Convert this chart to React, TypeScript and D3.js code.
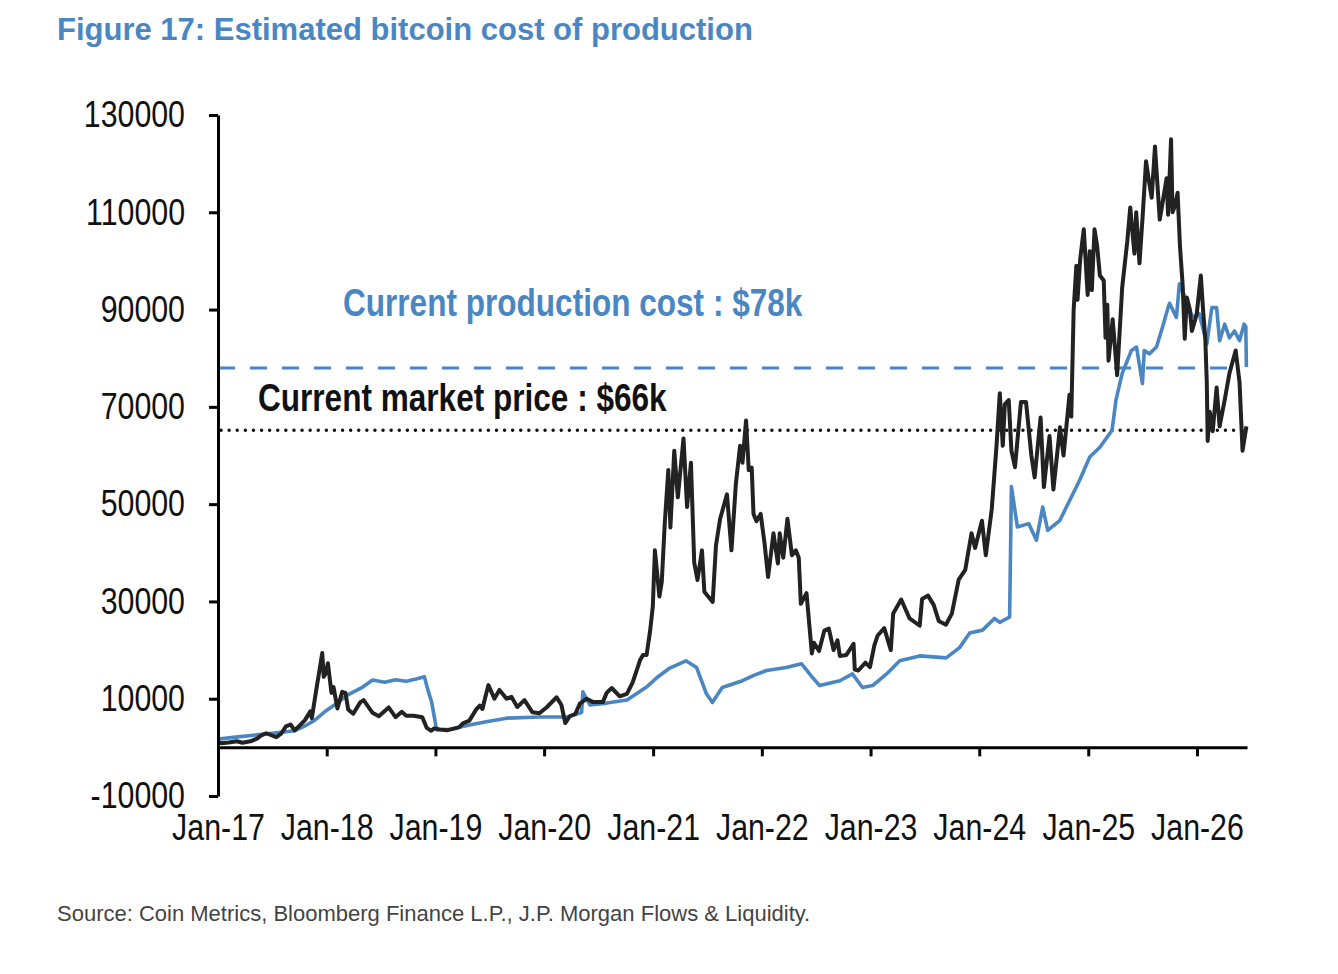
import React, { useEffect, useRef } from 'react';
import * as d3 from 'd3';

// Bitcoin market price (black) and estimated production cost (blue)
const marketPrice: [string, number][] = [
  ['2017-01-01', 1100], ['2017-01-12', 850], ['2017-02-05', 1000], ['2017-03-05', 1250],
  ['2017-03-24', 950], ['2017-04-20', 1250], ['2017-05-12', 1800], ['2017-05-25', 2400],
  ['2017-06-12', 2900], ['2017-07-16', 2100], ['2017-08-01', 2800], ['2017-08-17', 4300],
  ['2017-09-02', 4700], ['2017-09-15', 3500], ['2017-10-01', 4400], ['2017-10-20', 5600],
  ['2017-11-07', 7400], ['2017-11-12', 6000], ['2017-11-30', 13000], ['2017-12-07', 15500],
  ['2017-12-17', 19400], ['2017-12-22', 14500], ['2017-12-29', 15300], ['2018-01-05', 17300],
  ['2018-01-17', 11200], ['2018-01-24', 12400], ['2018-02-06', 8000], ['2018-02-22', 11400],
  ['2018-03-05', 11200], ['2018-03-14', 7800], ['2018-03-31', 6900], ['2018-04-24', 9300],
  ['2018-05-05', 9700], ['2018-06-04', 7100], ['2018-06-25', 6400], ['2018-07-28', 8200],
  ['2018-08-20', 6200], ['2018-09-10', 7300], ['2018-09-25', 6500], ['2018-10-20', 6500],
  ['2018-11-18', 6200], ['2018-12-03', 4000], ['2018-12-18', 3400], ['2018-12-28', 3900],
  ['2019-01-15', 3700], ['2019-02-08', 3500], ['2019-03-21', 4100], ['2019-04-05', 5000],
  ['2019-04-25', 5500], ['2019-05-18', 7800], ['2019-05-30', 8600], ['2019-06-08', 7900],
  ['2019-06-15', 9700], ['2019-06-28', 12800], ['2019-07-18', 10000], ['2019-08-04', 11800],
  ['2019-08-28', 10000], ['2019-09-13', 10400], ['2019-10-03', 8300], ['2019-10-27', 9700],
  ['2019-11-23', 7200], ['2019-12-16', 7000], ['2020-01-09', 8200], ['2020-02-12', 10300],
  ['2020-02-28', 8700], ['2020-03-12', 5000], ['2020-03-27', 6400], ['2020-04-15', 6900],
  ['2020-04-30', 9000], ['2020-05-23', 10000], ['2020-06-13', 9300], ['2020-07-16', 9300],
  ['2020-07-29', 11200], ['2020-08-15', 12200], ['2020-09-11', 10500], ['2020-10-05', 11000],
  ['2020-10-24', 13300], ['2020-11-18', 17900], ['2020-11-28', 19000], ['2020-12-10', 19000],
  ['2020-12-22', 24000], ['2020-12-31', 29000], ['2021-01-07', 40500], ['2021-01-22', 31000],
  ['2021-01-30', 34000], ['2021-02-09', 46000], ['2021-02-21', 57000], ['2021-02-28', 45200],
  ['2021-03-13', 61000], ['2021-03-25', 51400], ['2021-04-13', 63500], ['2021-04-25', 49400],
  ['2021-05-08', 58500], ['2021-05-19', 38000], ['2021-05-30', 34400], ['2021-06-14', 40500],
  ['2021-06-22', 32000], ['2021-07-20', 29900], ['2021-07-31', 41500], ['2021-08-14', 47000],
  ['2021-09-06', 52000], ['2021-09-21', 40500], ['2021-10-06', 54300], ['2021-10-20', 62000],
  ['2021-10-28', 58500], ['2021-11-09', 67200], ['2021-11-18', 57000], ['2021-11-28', 57500],
  ['2021-12-04', 48000], ['2021-12-14', 46500], ['2021-12-28', 48000], ['2022-01-10', 42000],
  ['2022-01-22', 35000], ['2022-02-09', 44000], ['2022-02-24', 37800], ['2022-03-02', 44000],
  ['2022-03-14', 39000], ['2022-03-28', 47000], ['2022-04-12', 39500], ['2022-04-25', 40500],
  ['2022-05-05', 39000], ['2022-05-12', 29500], ['2022-05-31', 31700], ['2022-06-18', 19300],
  ['2022-06-25', 21500], ['2022-07-12', 19800], ['2022-07-30', 24000], ['2022-08-14', 24400],
  ['2022-08-30', 20000], ['2022-09-12', 22000], ['2022-09-20', 18800], ['2022-10-12', 19000],
  ['2022-11-05', 21300], ['2022-11-09', 16000], ['2022-11-21', 15800], ['2022-12-15', 17400],
  ['2022-12-30', 16500], ['2023-01-14', 21000], ['2023-01-25', 23000], ['2023-02-16', 24500],
  ['2023-03-10', 20000], ['2023-03-18', 27500], ['2023-04-14', 30400], ['2023-05-12', 26500],
  ['2023-06-15', 25000], ['2023-06-23', 30500], ['2023-07-13', 31200], ['2023-08-01', 29300],
  ['2023-08-18', 26000], ['2023-09-11', 25200], ['2023-10-01', 27500], ['2023-10-24', 34500],
  ['2023-11-15', 36500], ['2023-12-06', 44000], ['2023-12-18', 41000], ['2024-01-10', 46600],
  ['2024-01-23', 39500], ['2024-02-12', 49000], ['2024-02-28', 62000], ['2024-03-10', 72800],
  ['2024-03-20', 62000], ['2024-03-27', 70500], ['2024-04-09', 71400], ['2024-04-18', 61000],
  ['2024-04-30', 57600], ['2024-05-20', 71000], ['2024-06-06', 71000], ['2024-06-24', 60000],
  ['2024-07-05', 55500], ['2024-07-25', 67800], ['2024-08-05', 53500], ['2024-08-24', 64000],
  ['2024-09-06', 53000], ['2024-09-28', 65800], ['2024-10-10', 60000], ['2024-10-30', 72500],
  ['2024-11-05', 68000], ['2024-11-13', 90000], ['2024-11-22', 99000], ['2024-11-26', 92000],
  ['2024-12-05', 100400], ['2024-12-17', 106500], ['2024-12-30', 93000], ['2025-01-06', 102000],
  ['2025-01-13', 94000], ['2025-01-22', 106500], ['2025-01-31', 103000], ['2025-02-09', 97000],
  ['2025-02-22', 96000], ['2025-02-28', 84200], ['2025-03-06', 91000], ['2025-03-10', 79500],
  ['2025-03-24', 88000], ['2025-04-08', 76500], ['2025-04-25', 94600], ['2025-05-12', 104000],
  ['2025-05-22', 111000], ['2025-06-05', 101500], ['2025-06-11', 110000], ['2025-06-22', 99500],
  ['2025-07-03', 109500], ['2025-07-14', 120500], ['2025-07-25', 116000], ['2025-08-02', 113000],
  ['2025-08-13', 123500], ['2025-08-29', 108500], ['2025-09-05', 111000], ['2025-09-21', 117000],
  ['2025-09-26', 109500], ['2025-10-06', 125000], ['2025-10-11', 110000], ['2025-10-20', 111500],
  ['2025-10-28', 114000], ['2025-11-05', 103000], ['2025-11-14', 95000], ['2025-11-21', 84000],
  ['2025-11-28', 92500], ['2025-12-08', 90000], ['2025-12-15', 85600], ['2025-12-31', 89000],
  ['2026-01-14', 97000], ['2026-01-22', 89500], ['2026-01-29', 84000], ['2026-02-03', 75000],
  ['2026-02-06', 63000], ['2026-02-13', 69000], ['2026-02-23', 65000], ['2026-03-08', 74000],
  ['2026-03-18', 66000], ['2026-04-04', 71400], ['2026-04-20', 76900], ['2026-05-11', 81600],
  ['2026-05-24', 75000], ['2026-06-03', 61000], ['2026-06-16', 66000],
];

const productionCost: [string, number][] = [
  ['2017-01-01', 1700], ['2017-03-01', 2100], ['2017-05-01', 2500], ['2017-07-01', 2900],
  ['2017-09-15', 3400], ['2017-10-20', 4400], ['2017-11-22', 5600], ['2017-12-25', 7300],
  ['2018-01-27', 8700], ['2018-03-13', 10800], ['2018-05-02', 12400], ['2018-06-04', 13850],
  ['2018-07-15', 13400], ['2018-08-20', 13900], ['2018-09-25', 13600], ['2018-10-25', 14000],
  ['2018-11-25', 14500], ['2018-12-04', 12400], ['2018-12-20', 9100], ['2019-01-05', 3600],
  ['2019-02-20', 3700], ['2019-04-25', 4600], ['2019-06-25', 5300], ['2019-08-28', 6000],
  ['2019-12-16', 6240], ['2020-03-20', 6240], ['2020-04-30', 7070], ['2020-05-06', 7200],
  ['2020-05-10', 11400], ['2020-06-03', 8700], ['2020-07-29', 9100], ['2020-10-05', 9740],
  ['2020-12-10', 12400], ['2021-01-13', 14300], ['2021-02-26', 16300], ['2021-04-21', 17800],
  ['2021-05-27', 16400], ['2021-06-29', 11000], ['2021-07-19', 9200], ['2021-08-21', 12300],
  ['2021-10-28', 13700], ['2021-12-05', 14800], ['2022-01-17', 15800], ['2022-03-24', 16400],
  ['2022-05-14', 17200], ['2022-06-21', 14300], ['2022-07-14', 12700], ['2022-09-20', 13700],
  ['2022-11-01', 15100], ['2022-12-05', 12300], ['2023-01-08', 12700], ['2023-02-24', 15100],
  ['2023-04-09', 17800], ['2023-06-15', 18800], ['2023-09-12', 18400], ['2023-10-27', 20500],
  ['2023-11-30', 23500], ['2024-01-12', 24100], ['2024-02-21', 26500], ['2024-03-10', 25700],
  ['2024-04-12', 26800], ['2024-04-18', 53600], ['2024-05-08', 45300], ['2024-06-15', 46000],
  ['2024-07-11', 42600], ['2024-08-01', 49400], ['2024-08-18', 44600], ['2024-09-27', 46600],
  ['2024-10-31', 50800], ['2024-12-03', 54900], ['2025-01-06', 59700], ['2025-02-09', 61700],
  ['2025-03-22', 65200], ['2025-04-04', 71400], ['2025-04-25', 76900], ['2025-05-26', 81600],
  ['2025-06-12', 82300], ['2025-07-02', 74800], ['2025-07-08', 81600], ['2025-07-25', 80900],
  ['2025-08-18', 82300], ['2025-09-08', 86500], ['2025-09-26', 90400], ['2025-10-01', 91300],
  ['2025-10-24', 88400], ['2025-11-03', 95300], ['2025-11-27', 91800], ['2025-12-17', 88500],
  ['2026-01-09', 89100], ['2026-02-03', 82900], ['2026-02-20', 90400], ['2026-03-08', 90400],
  ['2026-03-18', 83600], ['2026-04-04', 87000], ['2026-04-20', 84200], ['2026-05-07', 85600],
  ['2026-05-24', 83600], ['2026-06-08', 87000], ['2026-06-14', 86500], ['2026-06-16', 78200],
];

const yTicks = [-10000, 10000, 30000, 50000, 70000, 90000, 110000, 130000];
const xTickDates = ['2017-01-01', '2018-01-01', '2019-01-01', '2020-01-01', '2021-01-01',
  '2022-01-01', '2023-01-01', '2024-01-01', '2025-01-01', '2026-01-01'];
const xTickLabels = ['Jan-17', 'Jan-18', 'Jan-19', 'Jan-20', 'Jan-21', 'Jan-22', 'Jan-23',
  'Jan-24', 'Jan-25', 'Jan-26'];

const costLevel = 78000;
const priceLevel = 65200;

const BLUE = '#4a87c2';
const SANS = "'Liberation Sans', Arial, Helvetica, sans-serif";
// no narrow face installed, so squeeze the regular one
const NARROW_SCALE = 0.82;

const App = () => {
  const svgRef = useRef<SVGSVGElement>(null);

  useEffect(() => {
    if (!svgRef.current) return;
    const svg = d3.select(svgRef.current);
    svg.selectAll('*').remove();

    const parse = d3.timeParse('%Y-%m-%d');
    const x = d3.scaleTime()
      .domain([parse('2017-01-01') as Date, parse('2026-06-18') as Date])
      .range([218, 1247]);
    const y = d3.scaleLinear().domain([-10000, 130000]).range([796, 115]);

    // Title and source
    svg.append('text')
      .attr('x', 57).attr('y', 40)
      .attr('fill', BLUE)
      .attr('font-family', SANS)
      .attr('font-weight', 700)
      .attr('font-size', 31)
      .text('Figure 17: Estimated bitcoin cost of production');

    svg.append('text')
      .attr('x', 57).attr('y', 921)
      .attr('fill', '#444')
      .attr('font-family', SANS)
      .attr('font-size', 22)
      .text('Source: Coin Metrics, Bloomberg Finance L.P., J.P. Morgan Flows & Liquidity.');

    // Reference levels
    svg.append('line')
      .attr('x1', x.range()[0]).attr('x2', 1240)
      .attr('y1', y(costLevel)).attr('y2', y(costLevel))
      .attr('stroke', BLUE).attr('stroke-width', 3)
      .attr('stroke-dasharray', '17,15');

    svg.append('line')
      .attr('x1', x.range()[0] + 3).attr('x2', 1245)
      .attr('y1', y(priceLevel)).attr('y2', y(priceLevel))
      .attr('stroke', '#111').attr('stroke-width', 3.4)
      .attr('stroke-linecap', 'round')
      .attr('stroke-dasharray', '0.1,8');

    // Series
    const line = d3.line<[string, number]>()
      .x(d => x(parse(d[0]) as Date))
      .y(d => y(d[1]));

    svg.append('path')
      .datum(productionCost)
      .attr('d', line)
      .attr('fill', 'none')
      .attr('stroke', BLUE)
      .attr('stroke-width', 3.6)
      .attr('stroke-linejoin', 'round');

    svg.append('path')
      .datum(marketPrice)
      .attr('d', line)
      .attr('fill', 'none')
      .attr('stroke', '#222')
      .attr('stroke-width', 4)
      .attr('stroke-linejoin', 'round');

    // Annotations
    svg.append('text')
      .attr('transform', `translate(343,316) scale(${NARROW_SCALE},1)`)
      .attr('fill', BLUE)
      .attr('font-family', SANS)
      .attr('font-weight', 700)
      .attr('font-size', 38.5)
      .text('Current production cost : $78k');

    svg.append('text')
      .attr('transform', `translate(258,411) scale(${NARROW_SCALE},1)`)
      .attr('fill', '#111')
      .attr('font-family', SANS)
      .attr('font-weight', 700)
      .attr('font-size', 38.5)
      .text('Current market price : $66k');

    // Axes
    const yAxis = d3.axisLeft(y)
      .tickValues(yTicks)
      .tickSize(9)
      .tickSizeOuter(0)
      .tickFormat(d => String(d));

    const gy = svg.append('g')
      .attr('transform', `translate(${x.range()[0]},0)`)
      .call(yAxis);

    gy.selectAll('.tick text')
      .attr('x', null)
      .attr('transform', `translate(-33,0) scale(${NARROW_SCALE},1)`);

    const xAxis = d3.axisBottom(x)
      .tickValues(xTickDates.map(d => parse(d) as Date))
      .tickSize(9)
      .tickSizeOuter(0)
      .tickPadding(57)
      .tickFormat((_, i) => xTickLabels[i]);

    const gx = svg.append('g')
      .attr('transform', `translate(0,${y(0)})`)
      .call(xAxis);

    gx.selectAll('.tick text')
      .attr('transform', `scale(${NARROW_SCALE},1)`);

    [gx, gy].forEach(g => {
      g.select('.domain').attr('stroke', '#000').attr('stroke-width', 3);
      g.selectAll('.tick line').attr('stroke', '#000').attr('stroke-width', 3);
      g.selectAll('.tick text')
        .attr('fill', '#111')
        .attr('font-family', SANS)
        .attr('font-size', 37);
    });
  }, []);

  return (
    <svg
      ref={svgRef}
      width={1338}
      height={974}
      style={{ position: 'absolute', left: 0, top: 0, background: '#fff' }}
    />
  );
};

export default App;
